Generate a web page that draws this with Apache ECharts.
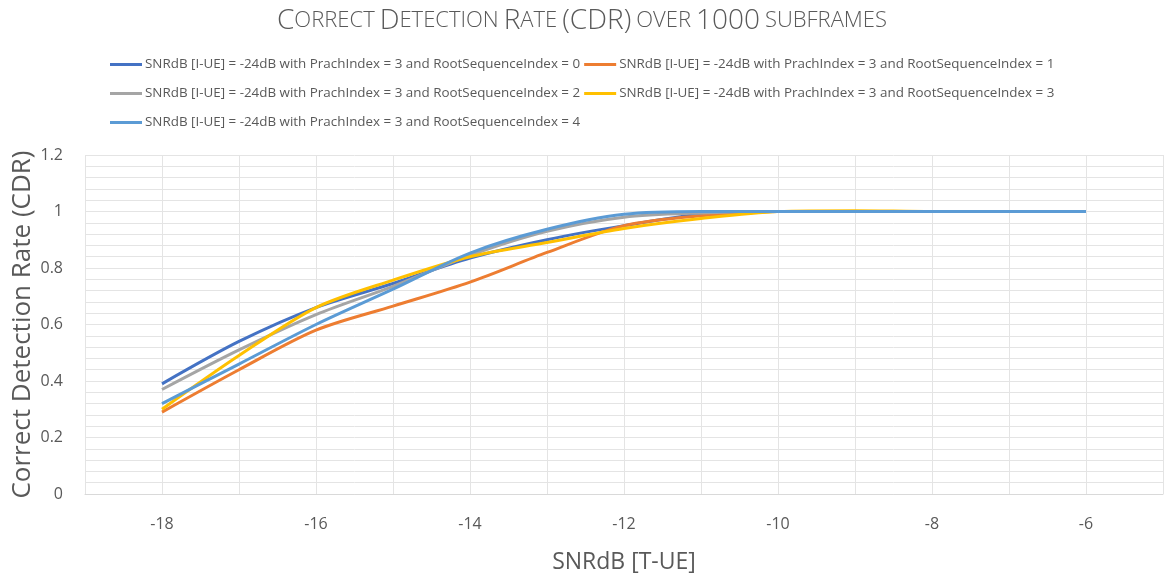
<!DOCTYPE html>
<html>
<head>
<meta charset="UTF-8">
<title>CDR over 1000 subframes</title>
<script src="https://cdn.jsdelivr.net/npm/echarts@6/dist/echarts.min.js"></script>
<style>
  html, body { margin: 0; padding: 0; background: #fff; }
  #chart { width: 1164px; height: 577px; }
</style>
</head>
<body>
<div id="chart"></div>
<script>
// SNR of the target UE (x axis)
const snrT = [-18, -17, -16, -15, -14, -13, -12, -11, -10, -9, -8, -7, -6];

// CDR per RootSequenceIndex
const cdrRoot0 = [0.39, 0.54, 0.66, 0.745, 0.835, 0.90, 0.95, 0.99, 1, 1, 1, 1, 1];
const cdrRoot1 = [0.29, 0.44, 0.58, 0.665, 0.75, 0.855, 0.95, 0.985, 1, 1, 1, 1, 1];
const cdrRoot2 = [0.37, 0.51, 0.635, 0.735, 0.845, 0.93, 0.98, 0.995, 1, 1, 1, 1, 1];
const cdrRoot3 = [0.30, 0.49, 0.66, 0.757, 0.84, 0.89, 0.94, 0.975, 1, 1.003, 1, 1, 1];
const cdrRoot4 = [0.32, 0.46, 0.60, 0.725, 0.853, 0.937, 0.99, 1, 1, 1, 1, 1, 1];

const seriesNames = [0, 1, 2, 3, 4].map(i =>
    'SNRdB [I-UE] = -24dB with PrachIndex = 3 and RootSequenceIndex = ' + i);
const seriesData = [cdrRoot0, cdrRoot1, cdrRoot2, cdrRoot3, cdrRoot4];
const colors = ['#4472C4', '#ED7D31', '#A5A5A5', '#FFC000', '#5B9BD5'];

const textColor = '#595959';
const gridColor = '#E4E4E4';
const fontFam = '"Open Sans", "Liberation Sans", sans-serif';

const chart = echarts.init(document.getElementById('chart'));

// small caps title built with rich text
const title = '{a|C}{b|ORRECT} {a|D}{b|ETECTION} {a|R}{b|ATE} {a|(CDR)} {b|OVER} {a|1000} {b|SUBFRAMES}';

function legendRow(names, top) {
    return {
        data: names,
        left: 105,
        top: top,
        itemWidth: 32,
        itemHeight: 3,
        itemGap: 4,
        icon: 'rect',
        textStyle: { color: textColor, fontSize: 13.4, fontFamily: fontFam, padding: [0, 0, 0, -2] }
    };
}

chart.setOption({
    color: colors,
    animation: false,
    title: {
        text: title,
        left: 'center',
        top: 2,
        textStyle: {
            rich: {
                a: { fontSize: 28, color: textColor, fontFamily: fontFam, fontWeight: 300 },
                b: { fontSize: 22, color: textColor, fontFamily: fontFam, fontWeight: 300 }
            }
        }
    },
    legend: [
        legendRow([seriesNames[0], seriesNames[1]], 53),
        legendRow([seriesNames[2], seriesNames[3]], 82),
        legendRow([seriesNames[4]], 111)
    ],
    grid: { left: 85, right: 1, top: 155, bottom: 83, outerBoundsMode: 'none', containLabel: false },
    xAxis: {
        type: 'value',
        min: -19,
        max: -5,
        interval: 1,
        name: 'SNRdB [T-UE]',
        nameLocation: 'middle',
        nameGap: 57,
        nameMoveOverlap: false,
        nameTextStyle: { color: textColor, fontSize: 23, fontFamily: fontFam },
        axisLine: { show: true, lineStyle: { color: '#D9D9D9', width: 1 } },
        axisTick: { show: false },
        axisLabel: {
            color: textColor, fontSize: 16, fontFamily: fontFam, margin: 22,
            formatter: v => (v % 2 === 0 ? String(v) : '')
        },
        splitLine: { show: true, lineStyle: { color: gridColor } }
    },
    yAxis: {
        type: 'value',
        min: 0,
        max: 1.2,
        interval: 0.2,
        name: 'Correct Detection Rate (CDR)',
        nameLocation: 'middle',
        nameGap: 49,
        nameMoveOverlap: false,
        nameTextStyle: { color: textColor, fontSize: 26, fontFamily: fontFam },
        axisLine: { show: false },
        axisTick: { show: false },
        axisLabel: {
            color: textColor, fontSize: 16, fontFamily: fontFam, margin: 22,
            formatter: v => String(Math.round(v * 10) / 10)
        },
        splitLine: { show: true, lineStyle: { color: gridColor } },
        minorTick: { show: false, splitNumber: 5 },
        minorSplitLine: { show: true, lineStyle: { color: gridColor } }
    },
    series: seriesData.map((vals, i) => ({
        name: seriesNames[i],
        type: 'line',
        smooth: 0.3,
        showSymbol: false,
        lineStyle: { width: 3, color: colors[i] },
        data: snrT.map((x, k) => [x, vals[k]])
    }))
});
</script>
</body>
</html>
